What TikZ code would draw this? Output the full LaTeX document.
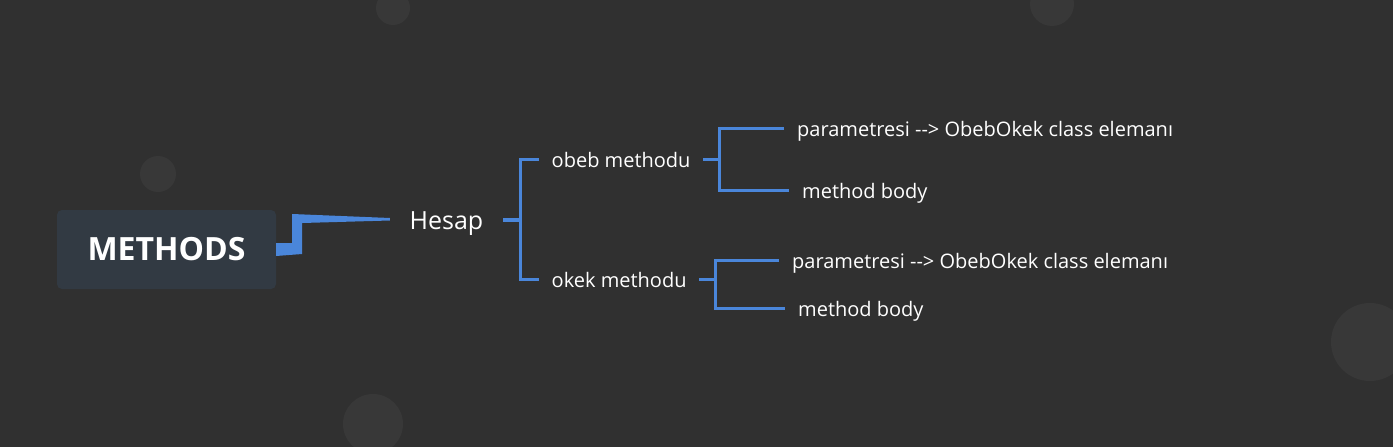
\documentclass[tikz,border=0pt]{standalone}
\usepackage{fontspec}
\setmainfont{Open Sans}
\usetikzlibrary{positioning,calc}

\definecolor{bgcol}{HTML}{303030}
\definecolor{dotcol}{HTML}{383838}
\definecolor{boxcol}{HTML}{323A43}
\definecolor{linecol}{HTML}{4A86DA}

\tikzset{
  rootbox/.style={fill=boxcol, rounded corners=5pt, minimum width=219pt, minimum height=79pt,
    inner sep=0pt, text=white, font=\fontsize{32}{38}\selectfont\bfseries},
  branch/.style={draw=linecol, line width=3pt},
  topic/.style={text=white, inner ysep=0pt, inner xsep=12.5pt, anchor=west,
    text height=16pt, text depth=0pt, font=\fontsize{20}{24}\selectfont},
}

\begin{document}
\begin{tikzpicture}[x=1pt,y=-1pt]
            % background and dots
            \fill[bgcol] (0,0) rectangle (1393,447);
            \useasboundingbox (0,0) rectangle (1393,447);
            \clip (0,0) rectangle (1393,447);
            \fill[dotcol] (393,8) circle (17);
            \fill[dotcol] (1052,4) circle (22);
            \fill[dotcol] (158,174) circle (18);
            \fill[dotcol] (373,424) circle (30);
            \fill[dotcol] (1370,342) circle (39);

            \node[rootbox] (methods) at (166.5,249.5) {METHODS};
            \node[text=white, inner ysep=0pt, inner xsep=19.5pt, text height=19pt, text depth=0pt,
              font=\fontsize{25}{30}\selectfont] (hesap) at (446.5,219.5) {Hesap};

            \node[topic] (obeb) at (539,159) {obeb methodu};
            \node[topic] (okek) at (539,279) {okek methodu};
            \node[topic, inner xsep=13pt] (obebparam) at (784,128) {parametresi -{}-> ObebOkek class elemanı};
            \node[topic, inner xsep=13pt] (obebbody) at (789,190) {method body};
            \node[topic, inner xsep=13pt] (okekparam) at (779,260) {parametresi -{}-> ObebOkek class elemanı};
            \node[topic, inner xsep=13pt] (okekbody) at (785,308) {method body};

            \coordinate[right=17pt of hesap] (hj);
            \coordinate[right=16pt of obeb] (oj);
            \coordinate[right=16pt of okek] (kj);

            % tapered link from the root
            \fill[linecol] ($(methods.east)+(0,-6.5)$) -- ($(methods.east)+(16,-6.5)$)
              -- ($(methods.east)+(16,-35.5)$) -- ([yshift=1.5pt]hesap.west)
              -- ([yshift=-1pt]hesap.west) -- ($(methods.east)+(26,-26.5)$)
              -- ($(methods.east)+(26,4.5)$) -- ($(methods.east)+(0,6.5)$) -- cycle;

            \draw[branch, line width=4pt] (hesap.east) to (hj);
            \draw[branch] (obeb.west) -| (hj) |- (okek.west);
            \draw[branch] (obeb.east) to (oj);
            \draw[branch] (obebparam.west) -| (oj) |- (obebbody.west);
            \draw[branch] (okek.east) to (kj);
            \draw[branch] (okekparam.west) -| (kj) |- (okekbody.west);
\end{tikzpicture}
\end{document}
